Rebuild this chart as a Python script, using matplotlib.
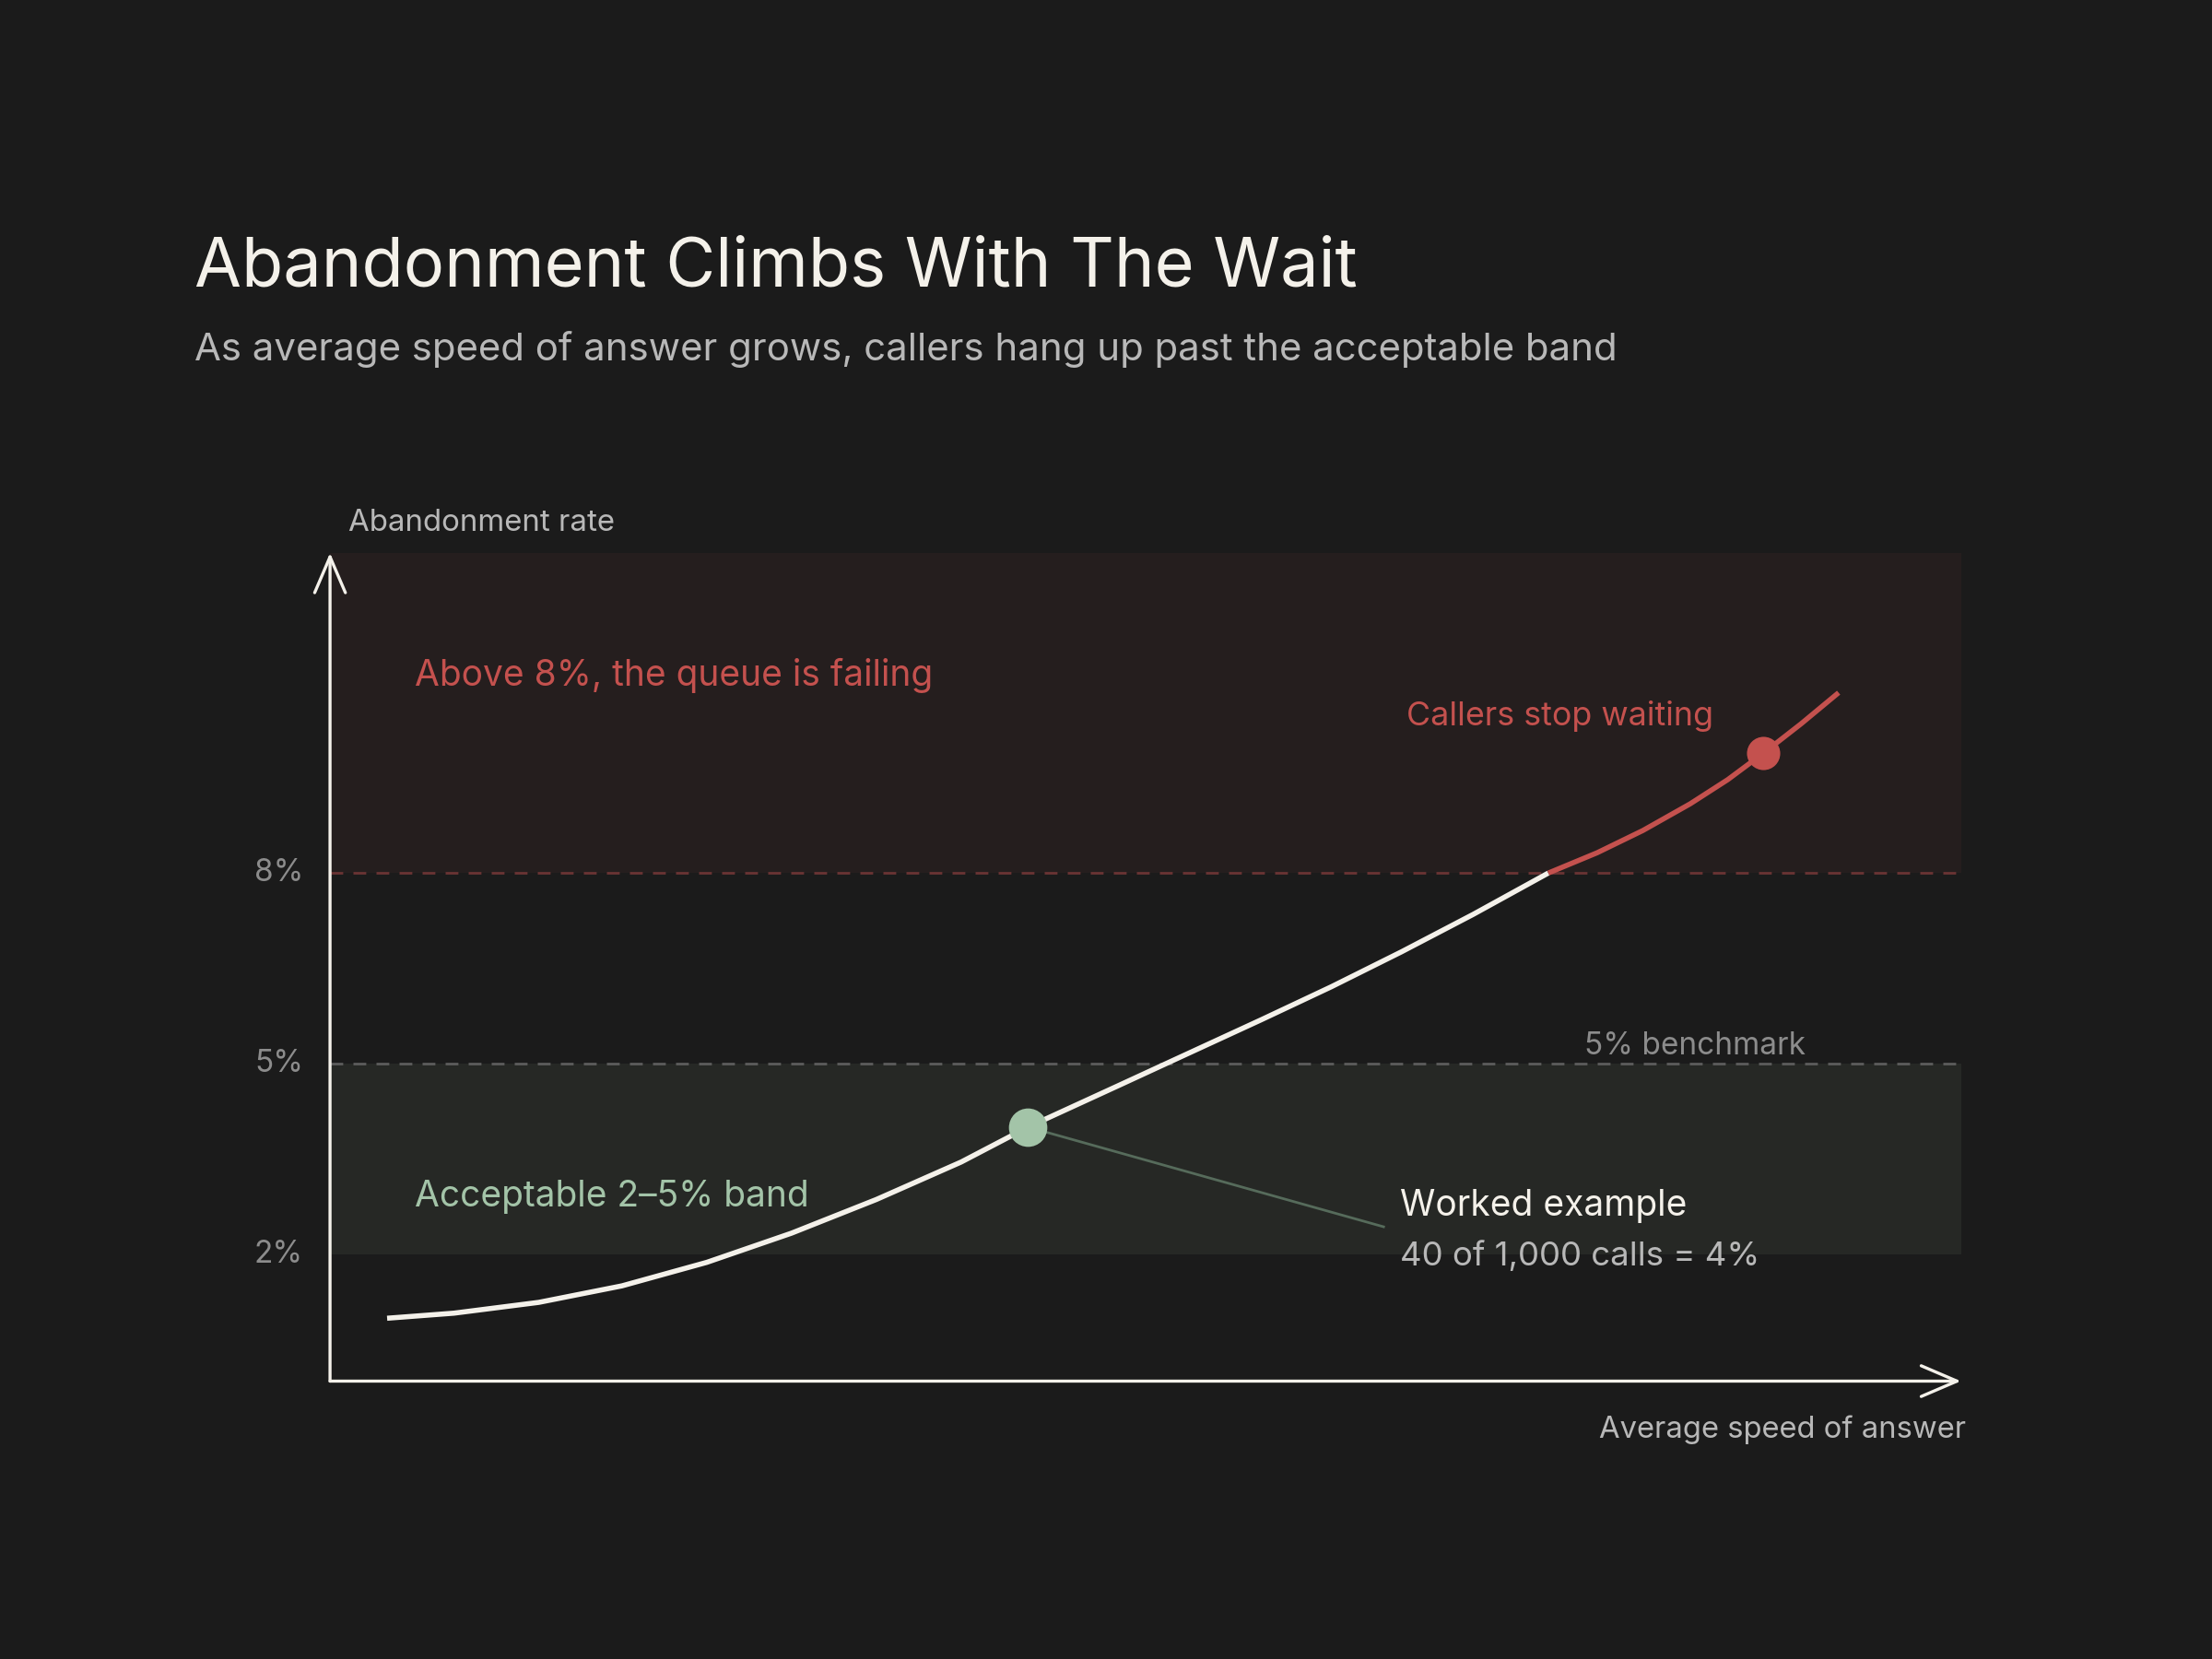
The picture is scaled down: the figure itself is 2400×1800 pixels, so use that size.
import matplotlib.pyplot as plt
import numpy as np

# values (x = relative average speed of answer, y = abandonment %)
asa = [3.5, 7.6, 12.8, 17.9, 23.1, 28.3, 33.5, 38.7, 42.8, 48.4, 51.1, 57.1,
       61.4, 65.7, 70.1, 74.7, 77.7, 80.5, 83.4, 85.7, 87.9, 90.2, 92.5]
rate = [0.99, 1.07, 1.24, 1.50, 1.87, 2.33, 2.86, 3.45, 4.00, 4.66, 4.98, 5.69,
        6.21, 6.76, 7.35, 8.00, 8.32, 8.67, 9.09, 9.47, 9.89, 10.35, 10.84]

tick_vals = [2, 5, 8]
tick_labels = ["2%", "5%", "8%"]
acceptable = (2, 5)
failing = 8
benchmark = 5
worked = (42.8, 4.0)
stop_pt = (87.9, 9.89)

BG = "#1b1b1b"
WHITE = "#f4f1ea"
RED = "#c4514e"
GREEN = "#a3c4a8"
GRAY = "#8c8c8c"
LIGHT = "#b8b8b8"

plt.rcParams['font.family'] = ['Inter', 'DejaVu Sans']

fig = plt.figure(figsize=(12, 9), dpi=200, facecolor=BG)
ax = fig.add_axes([0.1492, 0.1675, 0.7373, 0.4992])
ax.set_facecolor(BG)
ax.set_xlim(0, 100)
ax.set_ylim(0, 13.04)
for s in ax.spines.values():
    s.set_visible(False)
ax.set_xticks([])
ax.set_yticks([])

# bands
ax.axhspan(failing, 13.04, color="#251e1e", lw=0, zorder=0)
ax.axhspan(acceptable[0], acceptable[1], color="#262825", lw=0, zorder=0)
ax.axhline(failing, color="#6a3434", lw=1.0, ls=(0, (5, 4)), zorder=1)
ax.axhline(benchmark, color="#5c5c5c", lw=1.0, ls=(0, (5, 4)), zorder=1)

# axes with arrows
arrow = dict(arrowstyle='->,head_length=1.4,head_width=0.6', color=WHITE, lw=1.2,
             shrinkA=0, shrinkB=0, mutation_scale=10)
ax.annotate("", xy=(0, 1), xytext=(0, 0), xycoords='axes fraction', arrowprops=arrow)
ax.annotate("", xy=(1, 0), xytext=(0, 0), xycoords='axes fraction', arrowprops=arrow)

for v, lab in zip(tick_vals, tick_labels):
    ax.text(-1.65, v, lab, ha='right', va='center', color=GRAY, fontsize=12)

# curve: white up to 8%, red beyond
asa = np.array(asa)
rate = np.array(rate)
cut = int(np.argmax(rate >= failing))
ax.plot(asa[:cut + 1], rate[:cut + 1], color=WHITE, lw=2.0, solid_capstyle='butt',
        solid_joinstyle='round', zorder=3)
ax.plot(asa[cut:], rate[cut:], color=RED, lw=2.0, solid_capstyle='butt',
        solid_joinstyle='round', zorder=3)

ax.plot(*worked, 'o', color=GREEN, ms=15, mec='none', zorder=5)
ax.plot(*stop_pt, 'o', color=RED, ms=13, mec='none', zorder=5)

# worked example leader
ax.plot([worked[0], 64.6], [worked[1], 2.43], color="#566b5b", lw=1.0, zorder=2)
ax.text(65.6, 2.60, "Worked example", color=WHITE, fontsize=14, va='baseline')
ax.text(65.6, 1.82, "40 of 1,000 calls = 4%", color=LIGHT, fontsize=13.2, va='baseline')

ax.text(5.2, 10.95, "Above 8%, the queue is failing", color=RED, fontsize=14, va='baseline')
ax.text(5.2, 2.75, "Acceptable 2\u20135% band", color=GREEN, fontsize=14, va='baseline')
ax.text(66.0, 10.33, "Callers stop waiting", color=RED, fontsize=12.9, va='baseline')
ax.text(76.9, 5.15, "5% benchmark", color=GRAY, fontsize=12, va='baseline')

ax.text(100.3, -0.89, "Average speed of answer", color=LIGHT, fontsize=11.8,
        ha='right', va='baseline')
fig.text(0.1575, 0.680, "Abandonment rate", color=LIGHT, fontsize=11.9, va='baseline')

fig.text(0.088, 0.8274, "Abandonment Climbs With The Wait", color=WHITE, fontsize=26.6,
         va='baseline')
fig.text(0.088, 0.783, "As average speed of answer grows, callers hang up past the acceptable band",
         color=LIGHT, fontsize=15.1, va='baseline')

fig.savefig("out.png", dpi=200, facecolor=BG)
